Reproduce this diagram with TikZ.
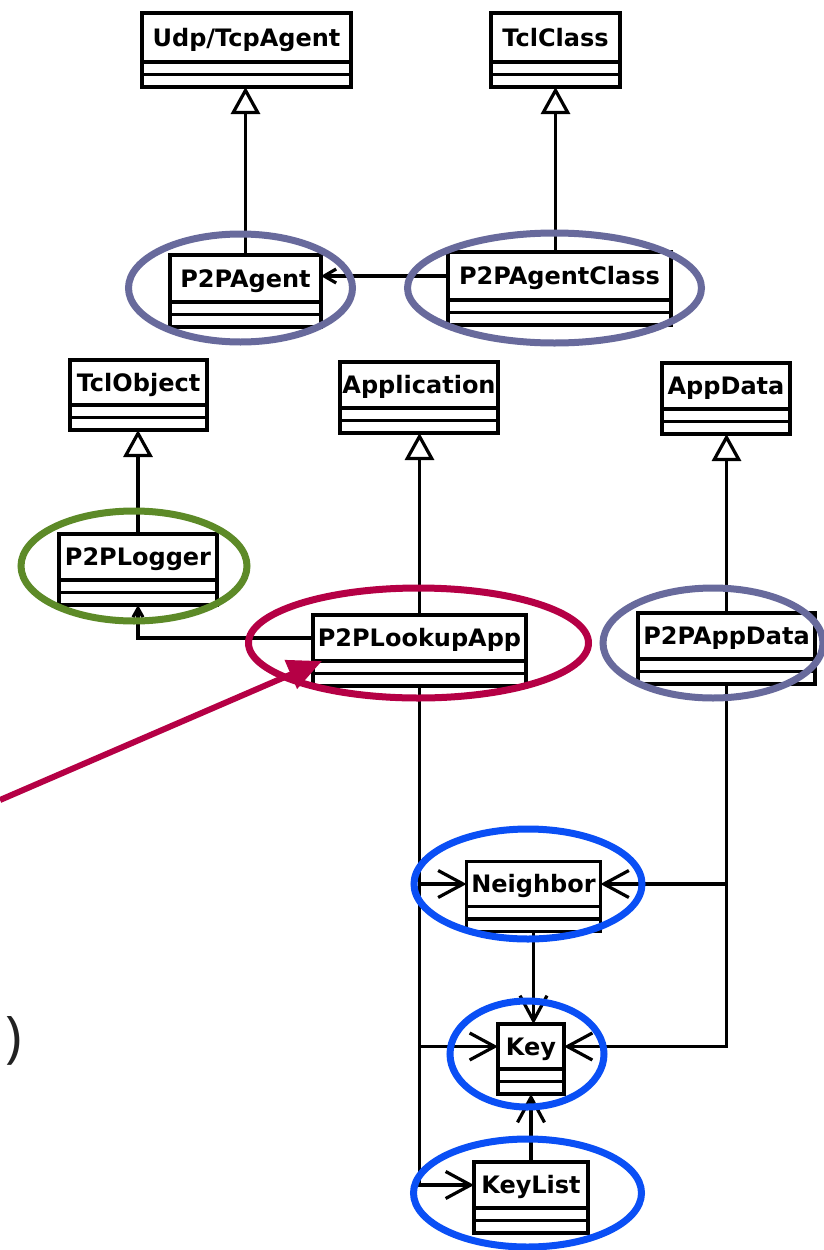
\documentclass[tikz,border=0pt]{standalone}
\usepackage{fontspec}
\setmainfont{DejaVu Sans}
\newfontfamily\parenfont{Open Sans}
\usetikzlibrary{arrows.meta}
\definecolor{slate}{HTML}{686A9C}
\definecolor{leaf}{HTML}{5D8A28}
\definecolor{crim}{HTML}{B50045}
\definecolor{hblue}{HTML}{0A4FF5}
\definecolor{parengray}{HTML}{222222}
\tikzset{
  umlbox/.style={draw, line width=3.4pt, inner sep=0pt, outer sep=0pt, text height=17pt, text depth=0pt, font=\bfseries\fontsize{24}{28}\selectfont},
  boxline/.style={draw, line width=3.4pt},
  conn/.style={line width=3.2pt},
  inherit/.style={conn, -{Triangle[open, length=27pt, width=29pt]}},
  assoc/.style={conn, -{Straight Barb[length=25pt, width=27pt]}},
  smallassoc/.style={conn, -{Straight Barb[length=12pt, width=14pt]}},
  tinyassoc/.style={conn, -{Straight Barb[length=9pt, width=10pt]}},
  hl/.style={line width=7pt},
}
\newcommand{\UMLclass}[6]{%
  \node[umlbox, minimum width=#4pt, minimum height=#5pt] (#1) at (#2,#3) {#6};
  \draw[boxline] (#1.south west) rectangle ([yshift=-12.5pt]#1.south east);
  \draw[boxline] ([yshift=-12.5pt]#1.south west) rectangle ([yshift=-25pt]#1.south east);
  \coordinate (#1-b) at ([yshift=-25pt]#1.south);
}
\begin{document}
\begin{tikzpicture}[x=1pt, y=-1pt]
\useasboundingbox (0,0) rectangle (823,1250);
\fill[white] (0,0) rectangle (823,1250);

% classes
\UMLclass{udp}{246.5}{37.5}{209}{49}{Udp/TcpAgent}
\UMLclass{tclclass}{555.5}{37.5}{129}{49}{TclClass}
\UMLclass{pa}{245.5}{278.5}{151}{47}{P2PAgent}
\UMLclass{pac}{559.5}{276}{223}{48}{P2PAgentClass}
\UMLclass{tclobj}{138.5}{382.5}{137}{45}{TclObject}
\UMLclass{app}{419}{385}{158}{46}{Application}
\UMLclass{ad}{726}{386}{128}{46}{AppData}
\UMLclass{lg}{138}{557}{158}{46}{P2PLogger}
\UMLclass{lk}{419.5}{638}{213}{46}{P2PLookupApp}
\UMLclass{pad}{726.5}{636}{177}{46}{P2PAppData}
\UMLclass{nb}{533.5}{884}{134}{45}{Neighbor}
\UMLclass{key}{531}{1046.5}{66}{45}{Key}
\UMLclass{kl}{531}{1185}{114}{46}{KeyList}

% generalisations
\draw[inherit] (pa.north) -- (pa.north |- udp-b);
\draw[inherit] (tclclass-b |- pac.north) -- (tclclass-b);
\draw[inherit] (lg.north) -- (lg.north |- tclobj-b);
\draw[inherit] (lk.north) -- (lk.north |- app-b);
\draw[inherit] (pad.north) -- (pad.north |- ad-b);

% associations
\draw[smallassoc] (pac.west) -- (pa.east |- pac.west);
\draw[tinyassoc] (lk.west) -| (lg-b);
\draw[assoc] (lk-b) |- (kl.west);
\draw[assoc] (lk-b |- nb.west) -- (nb.west);
\draw[assoc] (lk-b |- key.west) -- (key.west);
\draw[assoc] (pad-b) |- (key.east);
\draw[assoc] (pad-b |- nb.east) -- (nb.east);
\draw[assoc] (nb-b) -- (nb-b |- key.north);
\draw[assoc] (kl.north) -- (kl.north |- key-b);

% highlight ellipses
\draw[hl, slate] (240.5,288) ellipse [x radius=112pt, y radius=54pt];
\draw[hl, slate] (554.5,288) ellipse [x radius=147pt, y radius=55pt];
\draw[hl, leaf] (134,566) ellipse [x radius=113pt, y radius=55pt];
\draw[hl, crim] (418.5,643) ellipse [x radius=170pt, y radius=55pt];
\draw[hl, slate] (713,643) ellipse [x radius=110pt, y radius=55pt];
\draw[hl, hblue] (528,884) ellipse [x radius=114pt, y radius=55pt];
\draw[hl, hblue] (527,1054) ellipse [x radius=77pt, y radius=53pt];
\draw[hl, hblue] (527.5,1193) ellipse [x radius=114pt, y radius=54pt];

% pointer arrow
\coordinate (pstart) at (0,800);
\coordinate (ptip) at (322,661);
\draw[hl, line width=6pt, crim, -{Triangle[length=34pt, width=30pt]}] (pstart) -- (ptip);

% stray parenthesis
\node[font=\parenfont\fontsize{56}{66}\selectfont, text=parengray, inner sep=0pt] (paren) at (14,1041) {)};
\end{tikzpicture}
\end{document}
